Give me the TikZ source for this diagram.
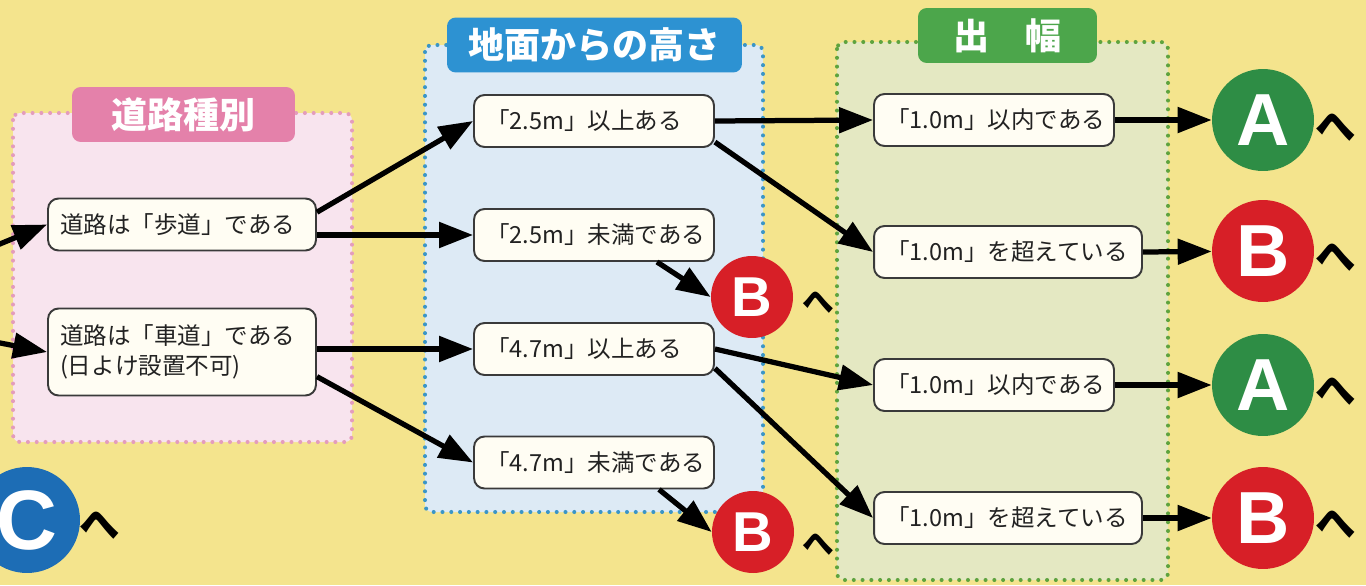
\documentclass[tikz,border=0pt]{standalone}
\usepackage{fontspec}
\setmainfont{Noto Sans CJK JP}
\newfontfamily\latinbold{Liberation Sans}
\usetikzlibrary{arrows.meta}

\definecolor{bgyellow}{HTML}{F4E48D}
\definecolor{pinkfill}{HTML}{F8E4EE}
\definecolor{pinkline}{HTML}{E49CBC}
\definecolor{pinktab}{HTML}{E481AA}
\definecolor{bluefill}{HTML}{DDEAF5}
\definecolor{blueline}{HTML}{3A95C6}
\definecolor{bluetab}{HTML}{2D92D2}
\definecolor{greenfill}{HTML}{E4E8C2}
\definecolor{greenline}{HTML}{5EA33E}
\definecolor{greentab}{HTML}{4CA64B}
\definecolor{boxfill}{HTML}{FFFDF3}
\definecolor{boxline}{HTML}{3A3A3A}
\definecolor{txt}{HTML}{222222}
\definecolor{agreen}{HTML}{2E8D45}
\definecolor{bred}{HTML}{D71F27}
\definecolor{cblue}{HTML}{1D6DB5}

\begin{document}
\begin{tikzpicture}
[x=0.02cm,y=-0.02cm,
 every node/.style={font=\fontsize{13.4}{17}\selectfont,text=txt},
 cond/.style={draw=boxline,line width=1.1pt,fill=boxfill,rounded corners=6pt,
   text width=#1,align=left,inner xsep=0.24cm,inner ysep=0pt,minimum height=1.04cm},
 tab/.style={fill=#1,rounded corners=5pt,text=white,inner sep=0pt,minimum height=1.1cm,
   font=\fontsize{20.5}{24}\selectfont\bfseries},
 grp/.style={draw=#1,line width=2.3pt,dash pattern=on 0pt off 5pt,line cap=round,rounded corners=4pt},
 result/.style={circle,fill=#1,text=white,inner sep=0pt,minimum size=2.04cm,
   font=\latinbold\bfseries\fontsize{42}{42}\selectfont},
 small/.style={minimum size=1.64cm,font=\latinbold\bfseries\fontsize{32}{32}\selectfont},
 he/.style={font=\bfseries\fontsize{23}{23}\selectfont,text=black,inner sep=0pt},
 flow/.style={-{Triangle[length=0.68cm,width=0.5cm]},line width=0.105cm,draw=black}]
\useasboundingbox (0,0) rectangle (1366,585);
\clip (0,0) rectangle (1366,585);
\fill[bgyellow] (0,0) rectangle (1366,585);

% groups
\draw[grp=pinkline,fill=pinkfill] (13,113) rectangle (352,442);
\draw[grp=blueline,fill=bluefill] (425,45) rectangle (763,512);
\draw[grp=greenline,fill=greenfill] (837,42) rectangle (1168,580);
\node[tab=pinktab,minimum width=4.46cm] (t1) at (183.5,114.5) {道路種別};
\node[tab=bluetab,minimum width=5.9cm] (t2) at (594.5,45) {地面からの高さ};
\node[tab=greentab,minimum width=3.58cm] (t3) at (1007.5,35.5) {出　幅};

% conditions
\node[cond=4.88cm] (hodo) at (182,224.5) {道路は「歩道」である};
\node[cond=4.88cm,minimum height=1.74cm] (shado) at (182,352) {道路は「車道」である\\(日よけ設置不可)};
\node[cond=4.32cm] (h25u) at (594,121) {「2.5m」以上ある};
\node[cond=4.32cm] (h25l) at (594,235) {「2.5m」未満である};
\node[cond=4.32cm] (h47u) at (594,349) {「4.7m」以上ある};
\node[cond=4.32cm] (h47l) at (594,462.5) {「4.7m」未満である};
\node[cond=4.32cm] (w1a) at (994,120) {「1.0m」以内である};
\node[cond=4.88cm] (w1b) at (1008,252) {「1.0m」を超えている};
\node[cond=4.32cm] (w2a) at (994,385) {「1.0m」以内である};
\node[cond=4.88cm] (w2b) at (1008,518) {「1.0m」を超えている};

% results
\node[result=agreen] (a1) at (1263,120) {A};
\node[result=bred] (b1) at (1263,251) {B};
\node[result=agreen] (a2) at (1263,385) {A};
\node[result=bred] (b2) at (1263,518) {B};
\node[result=bred,small] (bs1) at (752,297) {B};
\node[result=bred,small] (bs2) at (753,532) {B};
\node[result=cblue,minimum size=2.12cm,font=\latinbold\bfseries\fontsize{48}{48}\selectfont] (c) at (27,520) {C};
\node[he] (ha1) at (1336,127) {へ};
\node[he] (hb1) at (1336,257) {へ};
\node[he] (ha2) at (1336,391) {へ};
\node[he] (hb2) at (1336,524) {へ};
\node[he,font=\bfseries\fontsize{18}{18}\selectfont] (hs1) at (818,302) {へ};
\node[he,font=\bfseries\fontsize{18}{18}\selectfont] (hs2) at (818,544) {へ};
\node[he] (hc) at (100,525) {へ};

% connectors
\coordinate (in1) at (-5,246);
\coordinate (in2) at (-5,342);
\coordinate (s1) at ([yshift=7pt]hodo.east);
\coordinate (s2) at (hodo.east |- h25l.west);
\coordinate (s3) at (shado.east |- h47u.west);
\coordinate (s4) at ([yshift=-14pt]shado.east);
\coordinate (s5) at ([yshift=-12pt]h25u.east);
\coordinate (s6) at ([xshift=1.26cm]h25l.south);
\coordinate (s8) at ([yshift=-11pt]h47u.east);
\coordinate (s9) at ([xshift=1.3cm]h47l.south);
\foreach \from/\to in {in1/hodo.west,in2/shado.west,s1/h25u.west,s2/h25l.west,
  s3/h47u.west,s4/h47l.west,h25u.east/w1a.west,s5/w1b.west,s6/bs1.west,
  h47u.east/w2a.west,s8/w2b.west,s9/bs2.west,
  w1a.east/a1,w1b.east/b1,w2a.east/a2,w2b.east/b2}
\draw[flow] (\from) -- (\to);
\end{tikzpicture}
\end{document}
